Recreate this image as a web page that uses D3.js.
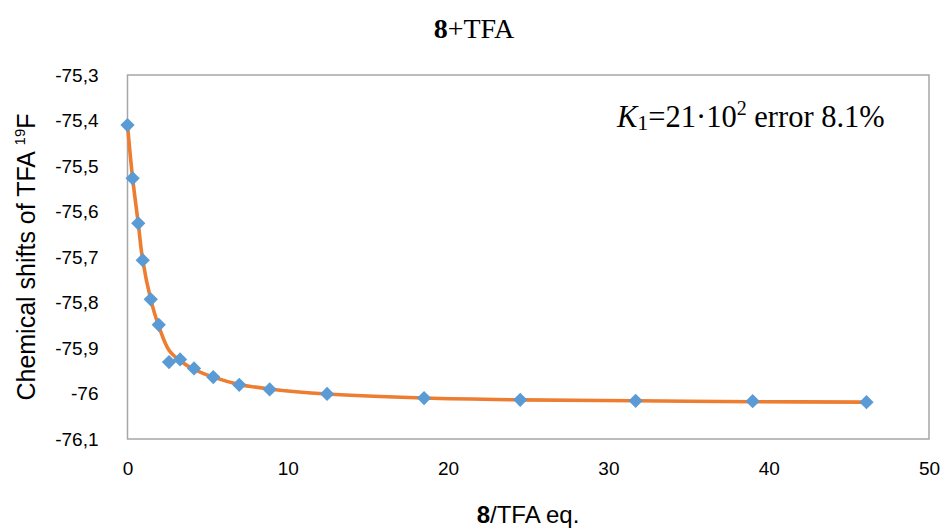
<!DOCTYPE html>
<html><head><meta charset="utf-8">
<script src="https://cdn.jsdelivr.net/npm/d3@7"></script>
<style>body{margin:0;background:#fff}svg{display:block}</style>
</head><body><svg id="c" width="947" height="529"></svg>
<script>
const ratio = [0, 0.32, 0.67, 0.95, 1.45, 1.95, 2.59, 3.28, 4.15, 5.35, 6.97, 8.87, 12.45, 18.5, 24.5, 31.7, 39.0, 46.1];
const shift = [-75.410, -75.527, -75.626, -75.707, -75.793, -75.849, -75.931, -75.925, -75.945, -75.964, -75.981, -75.991, -76.001, -76.010, -76.014, -76.016, -76.017, -76.019];
const fitX = [0, 0.32, 0.67, 0.95, 1.45, 1.95, 2.59, 3.28, 4.15, 5.35, 6.97, 8.87, 12.45, 18.5, 24.5, 31.7, 39.0, 46.1];
const fitY = [-75.410, -75.527, -75.626, -75.707, -75.793, -75.852, -75.905, -75.928, -75.947, -75.964, -75.980, -75.990, -76.001, -76.010, -76.014, -76.016, -76.018, -76.019];
const xTicks = [0, 10, 20, 30, 40, 50];
const yTicks = [-75.3, -75.4, -75.5, -75.6, -75.7, -75.8, -75.9, -76.0, -76.1];

const svg = d3.select('#c');
const L = 127.5, R = 929, T = 75, B = 439;
const x = d3.scaleLinear().domain([0, 50]).range([L, R]);
const y = d3.scaleLinear().domain([-75.3, -76.1]).range([T, B]);

svg.append('rect').attr('x', L).attr('y', T).attr('width', R - L).attr('height', B - T)
  .attr('fill', 'none').attr('stroke', '#a6a6a6').attr('stroke-width', 1.5);

const fmt = v => (Math.abs(v - Math.round(v)) < 1e-9 ? String(Math.round(v)) : v.toFixed(1).replace('.', ','));
const tickFont = 'Liberation Sans, Arial, sans-serif';

const yAxis = d3.axisLeft(y).tickValues(yTicks).tickSize(0).tickPadding(0).tickFormat(fmt);
const gy = svg.append('g').attr('transform', `translate(${L - 29},0)`).call(yAxis);
gy.select('.domain').remove();
gy.selectAll('text').attr('font-family', tickFont).attr('font-size', 19).attr('fill', '#000');

const xAxis = d3.axisBottom(x).tickValues(xTicks).tickSize(0).tickPadding(0).tickFormat(d3.format('d'));
const gx = svg.append('g').attr('transform', `translate(0,${B + 22})`).call(xAxis);
gx.select('.domain').remove();
gx.selectAll('text').attr('font-family', tickFont).attr('font-size', 19).attr('fill', '#000');

const fit = fitX.map((v, i) => [v, fitY[i]]);
svg.append('path').datum(fit)
  .attr('d', d3.line().x(d => x(d[0])).y(d => y(d[1])).curve(d3.curveCatmullRom.alpha(0.5)))
  .attr('fill', 'none').attr('stroke', '#ed7d31').attr('stroke-width', 3.6);

const pts = ratio.map((v, i) => [v, shift[i]]);
svg.append('g').selectAll('path').data(pts).join('path')
  .attr('d', d3.symbol().type(d3.symbolDiamond2).size(130))
  .attr('transform', d => `translate(${x(d[0])},${y(d[1])})`)
  .attr('fill', '#5b9bd5');

// title
const t = svg.append('text').attr('x', 474).attr('y', 38).attr('text-anchor', 'middle')
  .attr('font-family', 'Liberation Serif, Times New Roman, serif').attr('font-size', 28).attr('fill', '#000');
t.append('tspan').attr('font-weight', 'bold').text('8');
t.append('tspan').text('+TFA');

// annotation
const a = svg.append('text').attr('x', 617).attr('y', 127)
  .attr('font-family', 'Liberation Serif, Times New Roman, serif').attr('font-size', 30.5).attr('fill', '#000');
a.append('tspan').attr('font-style', 'italic').text('K');
a.append('tspan').attr('font-size', 22).attr('dy', 3).text('1');
a.append('tspan').attr('dy', -3).text('=21·10');
a.append('tspan').attr('font-size', 20).attr('dy', -12).text('2');
a.append('tspan').attr('dy', 12).text(' error 8.1%');

// y title
const yt = svg.append('text').attr('transform', 'translate(35,257) rotate(-90)').attr('text-anchor', 'middle')
  .attr('font-family', 'Liberation Sans, Arial, sans-serif').attr('font-size', 25).attr('fill', '#000');
yt.append('tspan').text('Chemical shifts of TFA ');
yt.append('tspan').attr('font-size', 15).attr('dy', -10).text('19');
yt.append('tspan').attr('dy', 10).text('F');

// x title
const xt = svg.append('text').attr('x', 528).attr('y', 523).attr('text-anchor', 'middle')
  .attr('font-family', 'Liberation Sans, Arial, sans-serif').attr('font-size', 24).attr('fill', '#000');
xt.append('tspan').attr('font-weight', 'bold').text('8');
xt.append('tspan').text('/TFA eq.');
</script></body></html>
